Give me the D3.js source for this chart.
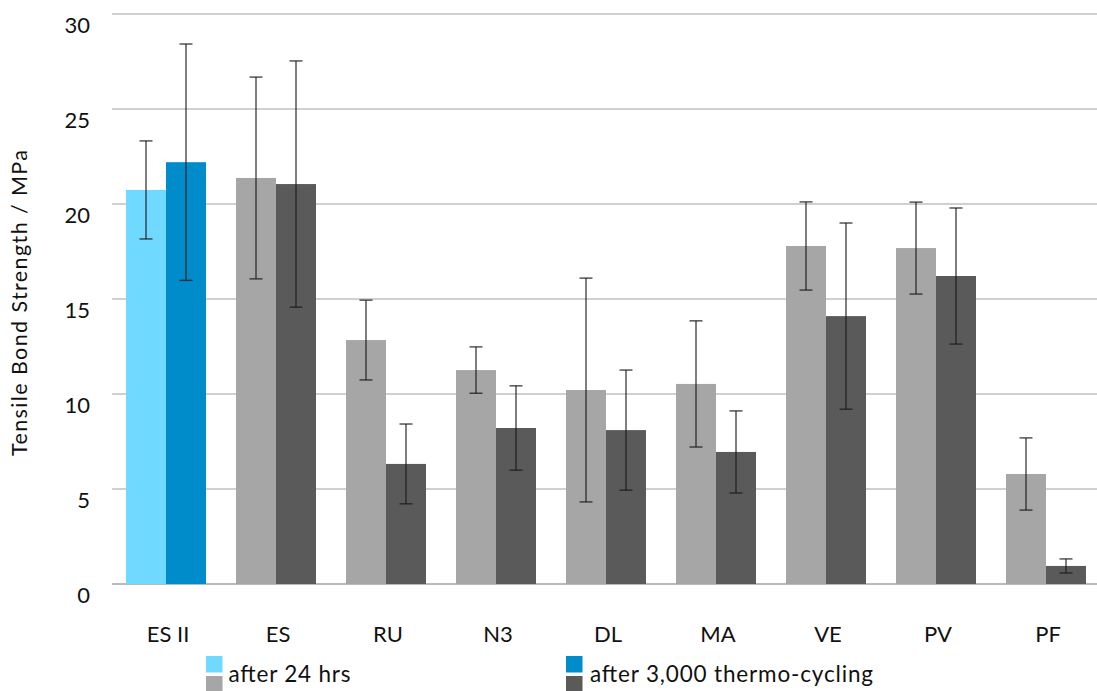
<!DOCTYPE html>
<html>
<head>
<meta charset="utf-8">
<script src="https://cdn.jsdelivr.net/npm/d3@7"></script>
<style>
  html, body { margin: 0; padding: 0; background: #fff; }
  svg { display: block; font-family: Lato, "Open Sans", sans-serif; }
</style>
</head>
<body>
<svg id="chart" width="1097" height="691"></svg>
<script>
// ---- data ----
const categories = ["ES II", "ES", "RU", "N3", "DL", "MA", "VE", "PV", "PF"];
const after24 = [20.74, 21.37, 12.84, 11.26, 10.21, 10.53, 17.79, 17.68, 5.79];
const after24Sd = [2.58, 5.31, 2.10, 1.22, 5.89, 3.32, 2.32, 2.42, 1.90];
const afterTC = [22.20, 21.05, 6.32, 8.21, 8.10, 6.95, 14.10, 16.21, 0.95];
const afterTCSd = [6.22, 6.48, 2.10, 2.22, 3.16, 2.16, 4.90, 3.58, 0.37];
const yTicks = [0, 5, 10, 15, 20, 25, 30];
const seriesNames = ["after 24 hrs", "after 3,000 thermo-cycling"];

// ---- styles ----
const colors = {
  blue24: "#70D9FF", blueTC: "#008CCB",
  gray24: "#A6A6A6", grayTC: "#5A5A5A"
};

const svg = d3.select("#chart");
const x0 = d3.scaleBand().domain(categories).range([111, 1101]).paddingInner(0).paddingOuter(0);
const x1 = d3.scaleBand().domain(["a", "b"]).range([15, 95]);
const y = d3.scaleLinear().domain([0, 30]).range([584, 14]);

// gridlines
svg.append("g").selectAll("line").data(yTicks).join("line")
  .attr("x1", 112).attr("x2", 1097)
  .attr("y1", d => y(d)).attr("y2", d => y(d))
  .attr("stroke", d => d === 0 ? "#A3A3A3" : "#C0C0C0")
  .attr("stroke-width", 1.5);

// y tick labels
svg.append("g").selectAll("text").data(yTicks).join("text")
  .attr("x", 90).attr("y", d => y(d) + 18.5)
  .attr("text-anchor", "end")
  .attr("font-size", 22).attr("fill", "#111")
  .text(d => d);

// y title
svg.append("text")
  .attr("transform", "translate(27,303) rotate(-90)")
  .attr("text-anchor", "middle")
  .attr("font-size", 21.5).attr("fill", "#111")
  .attr("textLength", 306).attr("lengthAdjust", "spacing")
  .text("Tensile Bond Strength / MPa");

// bars
const rows = categories.map((c, i) => ({
  c, i,
  a: after24[i], aSd: after24Sd[i],
  b: afterTC[i], bSd: afterTCSd[i]
}));

const groups = svg.append("g").selectAll("g").data(rows).join("g")
  .attr("transform", d => `translate(${x0(d.c)},0)`);

groups.append("rect")
  .attr("x", x1("a")).attr("width", x1.bandwidth())
  .attr("y", d => y(d.a)).attr("height", d => y(0) - y(d.a))
  .attr("fill", d => d.i === 0 ? colors.blue24 : colors.gray24);
groups.append("rect")
  .attr("x", x1("b")).attr("width", x1.bandwidth())
  .attr("y", d => y(d.b)).attr("height", d => y(0) - y(d.b))
  .attr("fill", d => d.i === 0 ? colors.blueTC : colors.grayTC);

// error bars
function errBar(sel, key, sdKey, sub) {
  const cx = x1(sub) + x1.bandwidth() / 2;
  const g = sel.append("g").attr("stroke", "#1a1a1a").attr("stroke-opacity", 0.8).attr("stroke-width", 1.4);
  g.append("line").attr("x1", cx).attr("x2", cx)
    .attr("y1", d => y(d[key] + d[sdKey])).attr("y2", d => y(d[key] - d[sdKey]));
  g.append("line").attr("x1", cx - 6.5).attr("x2", cx + 6.5)
    .attr("y1", d => y(d[key] + d[sdKey])).attr("y2", d => y(d[key] + d[sdKey]));
  g.append("line").attr("x1", cx - 6.5).attr("x2", cx + 6.5)
    .attr("y1", d => y(d[key] - d[sdKey])).attr("y2", d => y(d[key] - d[sdKey]));
}
errBar(groups, "a", "aSd", "a");
errBar(groups, "b", "bSd", "b");

// x labels
svg.append("g").selectAll("text").data(categories).join("text")
  .attr("x", d => x0(d) + x0.bandwidth() / 2 + 2)
  .attr("y", 642)
  .attr("text-anchor", "middle")
  .attr("font-size", 22).attr("fill", "#111")
  .text(d => d);

// legend
const legend = [
  { x: 206, tx: 228.5, len: 122, top: colors.blue24, bot: colors.gray24, label: seriesNames[0] },
  { x: 566, tx: 590, len: 283, top: colors.blueTC, bot: colors.grayTC, label: seriesNames[1] }
];
const lg = svg.append("g").selectAll("g").data(legend).join("g");
lg.append("rect").attr("x", d => d.x).attr("y", 656).attr("width", 16.5).attr("height", 16.5).attr("fill", d => d.top);
lg.append("rect").attr("x", d => d.x).attr("y", 676).attr("width", 16.5).attr("height", 16.5).attr("fill", d => d.bot);
lg.append("text").attr("x", d => d.tx).attr("y", 682)
  .attr("font-size", 22.5).attr("fill", "#111")
  .attr("textLength", d => d.len).attr("lengthAdjust", "spacing")
  .text(d => d.label);
</script>
</body>
</html>
